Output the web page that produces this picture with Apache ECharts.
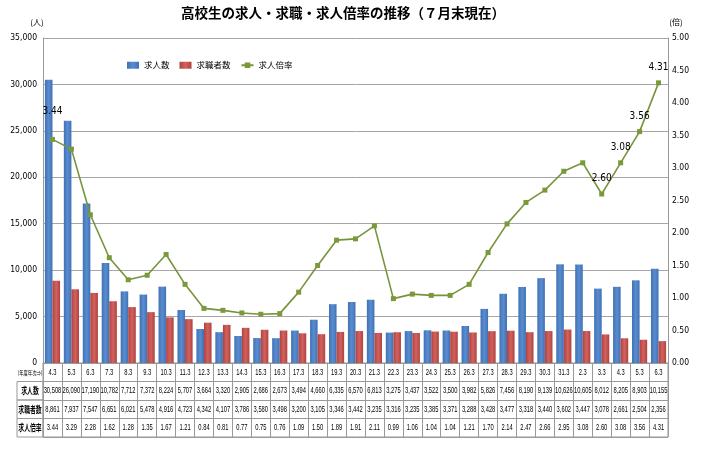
<!DOCTYPE html>
<html>
<head>
<meta charset="utf-8">
<script src="https://cdn.jsdelivr.net/npm/echarts@6/dist/echarts.min.js"></script>
<style>
  html, body { margin: 0; padding: 0; background: #fff; }
  #chart { width: 705px; height: 451px; }
</style>
</head>
<body>
<div id="chart"></div>
<script>
// 年度年次
const categories = ['4.3', '5.3', '6.3', '7.3', '8.3', '9.3', '10.3', '11.3', '12.3', '13.3', '14.3',
    '15.3', '16.3', '17.3', '18.3', '19.3', '20.3', '21.3', '22.3', '23.3', '24.3', '25.3', '26.3',
    '27.3', '28.3', '29.3', '30.3', '31.3', '2.3', '3.3', '4.3', '5.3', '6.3'];
// 求人数
const jobs = [30508, 26090, 17190, 10782, 7712, 7372, 8224, 5707, 3664, 3320, 2905, 2686, 2673,
    3494, 4660, 6335, 6570, 6813, 3275, 3437, 3522, 3500, 3982, 5826, 7456, 8190, 9139, 10626,
    10605, 8012, 8205, 8903, 10155];
// 求職者数
const seekers = [8861, 7937, 7547, 6651, 6021, 5478, 4916, 4723, 4342, 4107, 3786, 3580, 3498,
    3200, 3105, 3346, 3442, 3235, 3316, 3235, 3385, 3371, 3288, 3428, 3477, 3318, 3440, 3602,
    3447, 3078, 2661, 2504, 2356];
// 求人倍率
const ratio = [3.44, 3.29, 2.28, 1.62, 1.28, 1.35, 1.67, 1.21, 0.84, 0.81, 0.77, 0.75, 0.76,
    1.09, 1.50, 1.89, 1.91, 2.11, 0.99, 1.06, 1.04, 1.04, 1.21, 1.70, 2.14, 2.47, 2.66, 2.95,
    3.08, 2.60, 3.08, 3.56, 4.31];
// 倍率ラベルを出す点
const labelIdx = [0, 29, 30, 31, 32];
const rowNames = ['(年度年次⇒)', '求人数', '求職者数', '求人倍率'];
const leftTicks = [0, 35000, 5000];
const rightTicks = [0, 5, 0.5];

const cjk = '"Noto Sans CJK JP", sans-serif';
const narrow = '"Liberation Sans Narrow", "DejaVu Sans Condensed", "Liberation Sans", sans-serif';

(function () {
    let myChart = echarts.init(document.getElementById('chart'));

    function fmt(n) {
        return n.toLocaleString('en-US');
    }

    // 表のセル
    let cells = [];
    for (let i = 0; i < categories.length; i++) {
        cells.push([i, 0, categories[i]]);
        cells.push([i, 1, fmt(jobs[i])]);
        cells.push([i, 2, fmt(seekers[i])]);
        cells.push([i, 3, ratio[i].toFixed(2)]);
    }
    let heads = rowNames.map(function (n, r) { return [0, r, n]; });

    let blue = {
        type: 'linear', x: 0, y: 0, x2: 1, y2: 0,
        colorStops: [
            { offset: 0, color: '#3f71b3' },
            { offset: 0.5, color: '#5a8dd0' },
            { offset: 1, color: '#3f71b3' }
        ]
    };
    let red = {
        type: 'linear', x: 0, y: 0, x2: 1, y2: 0,
        colorStops: [
            { offset: 0, color: '#b0423f' },
            { offset: 0.5, color: '#d2625e' },
            { offset: 1, color: '#b0423f' }
        ]
    };

    let option = {
        animation: false,
        textStyle: { fontFamily: cjk },
        title: {
            text: '高校生の求人・求職・求人倍率の推移（７月末現在）',
            left: 176,
            top: 1,
            textStyle: { fontSize: 13.5, fontWeight: 'bold', color: '#000', fontFamily: cjk }
        },
        legend: {
            left: 122,
            top: 56,
            itemWidth: 12,
            itemHeight: 7,
            itemGap: 10,
            textStyle: { fontSize: 8.5, color: '#000', fontFamily: cjk },
            data: [
                { name: '求人数', icon: 'rect' },
                { name: '求職者数', icon: 'rect' },
                { name: '求人倍率' }
            ]
        },
        grid: [
            { left: 43, right: 37, top: 38, height: 325 },
            { left: 43, right: 37, top: 363, height: 74, show: true, borderColor: '#999', borderWidth: 1 }
        ],
        xAxis: [
            {
                type: 'category',
                gridIndex: 0,
                data: categories,
                axisTick: { show: false },
                axisLabel: { show: false },
                axisLine: { lineStyle: { color: '#999' } }
            },
            {
                type: 'category',
                gridIndex: 1,
                data: categories,
                axisTick: { show: false },
                axisLabel: { show: false },
                axisLine: { show: false },
                splitLine: { show: true, interval: 0, lineStyle: { color: '#999' } }
            }
        ],
        yAxis: [
            {
                type: 'value',
                gridIndex: 0,
                min: leftTicks[0],
                max: leftTicks[1],
                interval: leftTicks[2],
                name: '(人)',
                nameLocation: 'end',
                nameGap: 12,
                nameTextStyle: { fontSize: 8, color: '#000', padding: [0, 12, 0, 0] },
                axisLine: { show: true, lineStyle: { color: '#999' } },
                axisTick: { show: false },
                axisLabel: {
                    margin: 6,
                    fontSize: 8.5,
                    color: '#000',
                    fontFamily: narrow,
                    formatter: function (v) { return fmt(v); }
                },
                splitLine: { lineStyle: { color: '#a6a6a6' } }
            },
            {
                type: 'value',
                gridIndex: 0,
                position: 'right',
                min: rightTicks[0],
                max: rightTicks[1],
                interval: rightTicks[2],
                name: '(倍)',
                nameLocation: 'end',
                nameGap: 12,
                nameTextStyle: { fontSize: 8, color: '#000', padding: [0, 0, 0, 16] },
                axisLine: { show: true, lineStyle: { color: '#999' } },
                axisTick: { show: false },
                axisLabel: {
                    margin: 4,
                    fontSize: 8.5,
                    color: '#000',
                    fontFamily: narrow,
                    formatter: function (v) { return v.toFixed(2); }
                },
                splitLine: { show: false }
            },
            {
                type: 'category',
                gridIndex: 1,
                inverse: true,
                data: rowNames,
                axisLine: { show: false },
                axisTick: { show: false },
                axisLabel: { show: false },
                splitLine: { show: true, interval: 0, lineStyle: { color: '#999' } }
            }
        ],
        series: [
            {
                name: '求人数',
                type: 'bar',
                xAxisIndex: 0,
                yAxisIndex: 0,
                barWidth: '40%',
                barGap: '0%',
                itemStyle: { color: blue },
                data: jobs
            },
            {
                name: '求職者数',
                type: 'bar',
                xAxisIndex: 0,
                yAxisIndex: 0,
                barWidth: '40%',
                barGap: '0%',
                itemStyle: { color: red },
                data: seekers
            },
            {
                name: '求人倍率',
                type: 'line',
                xAxisIndex: 0,
                yAxisIndex: 1,
                symbol: 'rect',
                symbolSize: 5,
                lineStyle: { color: '#77933c', width: 1.6 },
                itemStyle: { color: '#7a9a3a' },
                label: {
                    show: false,
                    position: 'top',
                    fontSize: 10,
                    color: '#000',
                    fontFamily: narrow,
                    formatter: function (p) { return p.value.toFixed(2); }
                },
                data: ratio.map(function (v, i) {
                    if (labelIdx.indexOf(i) < 0) return v;
                    return { value: v, label: { show: true, distance: i === 0 ? 20 : 8 } };
                })
            },
            {
                // 表の数値
                type: 'custom',
                xAxisIndex: 1,
                yAxisIndex: 2,
                silent: true,
                encode: { x: 0, y: 1 },
                data: cells,
                renderItem: function (params, api) {
                    let pt = api.coord([api.value(0), api.value(1)]);
                    return {
                        type: 'text',
                        x: pt[0],
                        y: pt[1],
                        scaleX: 0.68,
                        style: {
                            text: cells[params.dataIndex][2],
                            x: 0, y: 0,
                            align: 'center', verticalAlign: 'middle',
                            textAlign: 'center', textVerticalAlign: 'middle',
                            fontSize: 8.5,
                            fontFamily: '"Liberation Sans", sans-serif',
                            fill: '#000'
                        }
                    };
                }
            },
            {
                // 表の見出し列
                type: 'custom',
                xAxisIndex: 1,
                yAxisIndex: 2,
                silent: true,
                encode: { x: 0, y: 1 },
                data: heads,
                renderItem: function (params, api) {
                    let r = api.value(1);
                    let pt = api.coord([0, r]);
                    let size = api.size([1, 1]);
                    let left = pt[0] - size[0] / 2;
                    let children = [];
                    if (r > 0) {
                        children.push({
                            type: 'rect',
                            shape: { x: left - 26, y: pt[1] - size[1] / 2, width: 26, height: size[1] },
                            style: { fill: 'none', stroke: '#999', lineWidth: 1 }
                        });
                    }
                    children.push({
                        type: 'text',
                        x: left - 13,
                        y: pt[1],
                        scaleX: r > 0 ? 0.65 : 0.72,
                        style: {
                            text: heads[params.dataIndex][2],
                            x: 0, y: 0,
                            align: 'center', verticalAlign: 'middle',
                            textAlign: 'center', textVerticalAlign: 'middle',
                            fontSize: r > 0 ? 9 : 6,
                            fontWeight: r > 0 ? 'bold' : 'normal',
                            fontFamily: cjk,
                            fill: '#000'
                        }
                    });
                    return { type: 'group', children: children };
                }
            }
        ]
    };
    myChart.setOption(option);
    window.addEventListener('resize', function () {
        myChart.resize();
    });
})();
</script>
</body>
</html>
